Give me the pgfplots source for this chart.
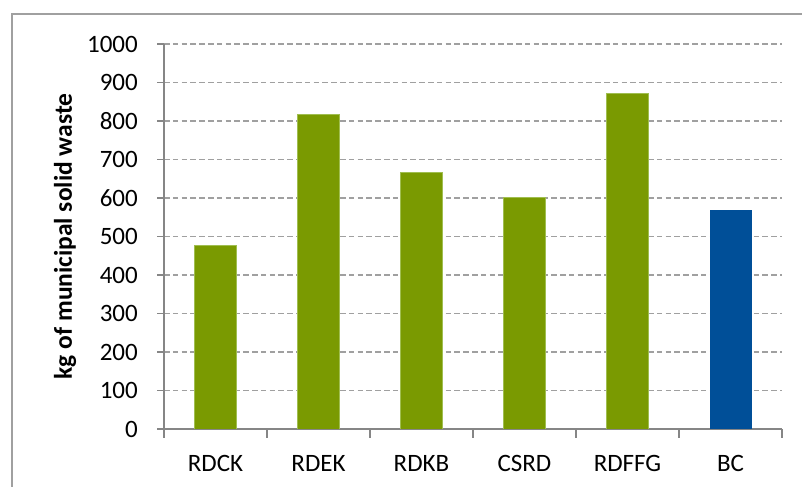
\documentclass[border=0pt]{standalone}
\usepackage{pgfplots}
\pgfplotsset{compat=1.18}
\usepackage{fontspec}
\setmainfont{Carlito}
\definecolor{barg}{RGB}{122,154,1}
\definecolor{bare}{RGB}{160,190,80}
\definecolor{barb}{RGB}{0,79,152}
\definecolor{gridc}{RGB}{160,160,160}
\definecolor{axc}{RGB}{134,134,134}
\definecolor{framec}{RGB}{160,160,160}
\begin{document}
\begin{tikzpicture}[x=1bp,y=1bp]
\path[use as bounding box] (0,0) rectangle (802,487);
\draw[framec, line width=1.5bp] (12,-2) -- (12,473) -- (804,473);
\begin{axis}[
  at={(164bp,58bp)}, anchor=south west,
  scale only axis, width=618bp, height=385bp,
  xmin=-0.5, xmax=5.5, ymin=0, ymax=1000,
  ytick={0,100,...,1000},
  xtick={0,...,5}, xticklabels={RDCK,RDEK,RDKB,CSRD,RDFFG,BC},
  minor xtick={-0.5,0.5,...,5.5},
  axis x line*=bottom, axis y line*=left,
  axis line style={axc, line width=1.2bp, -},
  tick align=outside,
  major tick length=7bp, minor tick length=9bp,
  every major x tick/.append style={draw=none},
  every minor x tick/.append style={axc, line width=1.2bp},
  every major y tick/.append style={axc, line width=1.2bp},
  ymajorgrids,
  major grid style={gridc, line width=1.2bp, dash pattern=on 5.5bp off 3.3bp},
  /pgf/number format/assume math mode=true,
  /pgf/number format/1000 sep={},
  tick label style={font=\fontsize{25bp}{30bp}\selectfont},
  yticklabel style={inner sep=0pt, xshift=-19bp},
  xticklabel style={anchor=base, inner sep=0pt, yshift=-36bp},
  ylabel={kg of municipal solid waste},
  ylabel style={font=\bfseries\fontsize{25.5bp}{30bp}\selectfont, at={(axis description cs:-0.1489,0.5)}, anchor=base, inner sep=0pt},
]
\addplot[ybar, bar shift=0pt, bar width=42bp, fill=barg, draw=bare, line width=0.8bp]
  coordinates {(0,477) (1,818) (2,667) (3,601) (4,871)};
\addplot[ybar, bar shift=0pt, bar width=42bp, fill=barb, draw=none]
  coordinates {(5,570)};
\end{axis}
\end{tikzpicture}
\end{document}
